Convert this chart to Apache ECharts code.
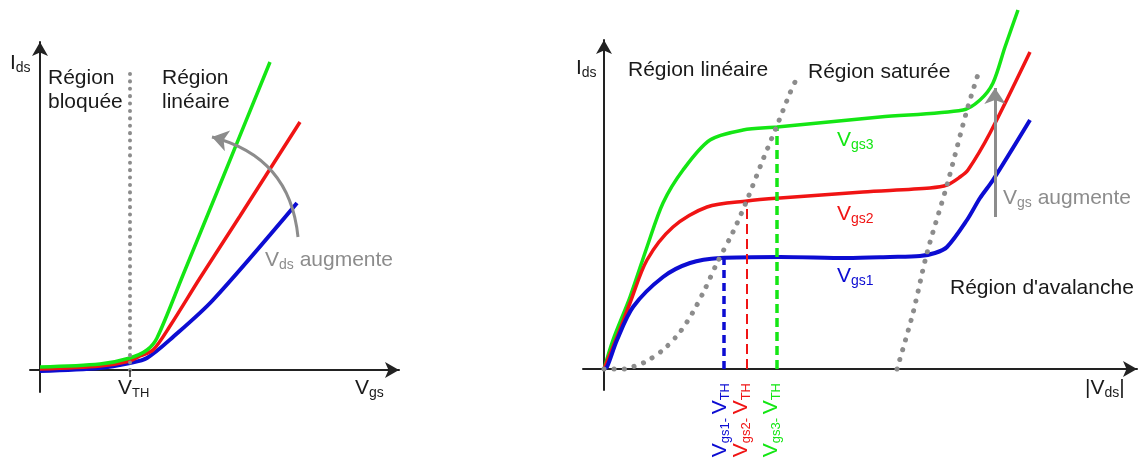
<!DOCTYPE html>
<html>
<head>
<meta charset="utf-8">
<script src="https://cdn.jsdelivr.net/npm/echarts@6/dist/echarts.min.js"></script>
<style>html,body{margin:0;padding:0;background:#fff}#c{width:1140px;height:460px}</style>
</head>
<body>
<div id="c"></div>
<script>
// ---------- Left chart: Ids vs Vgs (arbitrary units) ----------
const leftGreen = [[0,0.15],[3,0.3],[4.5,0.6],[5.35,1.0],[5.85,1.6],[7.15,4.75],[8.85,8.9],[11.5,15.4]];
const leftRed   = [[0,0.05],[3,0.2],[4.5,0.45],[5.0,0.7],[5.65,1.0],[6.5,2.2],[8,4.6],[10,7.7],[13,12.4]];
const leftBlue  = [[0,-0.05],[3,0.1],[4.5,0.35],[5.35,0.6],[6.65,1.65],[8.65,3.5],[12.85,8.35]];
const leftVth   = [[4.5,0],[4.5,14.9]];
const leftVthTick = [[4.5,0],[4.5,-0.35]];
const leftArrow = [[12.9,6.65],[8.6,11.65]];

// ---------- Right chart: Ids vs |Vds| (arbitrary units) ----------
const rightVgs3 = [[0,0],[0.45,1.45],[1.3,3.6],[2.15,6.1],[2.95,8.3],[3.95,9.95],[5.3,11.45],[6.95,11.95],[8.65,12.1],[13.8,12.6],[17.95,12.95],[18.8,13.45],[19.45,14.3],[20.05,16.1],[20.7,17.95]];
const rightVgs2 = [[0,0],[0.65,1.6],[1.3,3.3],[2.15,5.45],[3.45,7.1],[5.15,8.1],[7.15,8.4],[8.8,8.55],[12.95,8.85],[16.3,9.05],[17.15,9.2],[17.8,9.6],[18.2,9.95],[19.3,11.8],[21.3,15.85]];
const rightVgs1 = [[0,0],[0.15,0.1],[0.65,1.45],[1.45,3.1],[2.95,4.6],[4.3,5.3],[5.8,5.55],[8.8,5.6],[12.15,5.55],[14.3,5.6],[15.8,5.65],[16.55,5.8],[17.15,6.1],[18.15,7.45],[18.8,8.55],[19.45,9.45],[21.3,12.45]];
const rightSatLimit = [[0,0],[0.45,0],[1.05,0],[1.55,0.15],[2.05,0.35],[2.95,0.95],[3.8,1.85],[4.45,2.85],[5.05,4.0],[5.65,5.3],[6.45,6.85],[7.15,8.45],[7.9,10.35],[8.7,12.3],[9.3,13.8],[9.55,14.35]];
const rightAvalanche = [[14.65,0],[15.45,2.8],[16.15,5.8],[17.15,9.2],[18.15,12.95],[18.8,15.05]];
const rightDash1 = [[6.0,0],[6.0,5.55]];
const rightDash2 = [[7.15,0],[7.15,8.4]];
const rightDash3 = [[8.65,0],[8.65,12.1]];
const rightArrow = [[19.55,7.6],[19.55,14.05]];

const GREEN = '#14e614', RED = '#f01414', BLUE = '#0c0cd2', GRAY = '#8c8c8c', TXT = '#1a1a1a';
const FONT = "'Liberation Sans', Arial, sans-serif";

function axis(gi, min, max) {
  return {
    type: 'value', gridIndex: gi, min: min, max: max,
    axisLine: { show: true, onZero: true, symbol: ['none', 'arrow'], symbolSize: [12, 14],
      lineStyle: { color: '#222', width: 2 } },
    axisTick: { show: false }, axisLabel: { show: false }, splitLine: { show: false }
  };
}
function line(xi, data, color, width, type, z, smooth) {
  return {
    type: 'line', xAxisIndex: xi, yAxisIndex: xi, data: data, showSymbol: false, symbol: 'none',
    silent: true, z: z, lineStyle: { color: color, width: width, type: type || 'solid' },
    smooth: smooth || 0, clip: false, animation: false
  };
}
function dotted(xi, data, w, gap, z, smooth) {
  const s = line(xi, data, GRAY, w, [0.1, gap], z, smooth);
  s.lineStyle.cap = 'round';
  return s;
}
function rich(color, subSize) {
  return {
    v: { fontSize: 21, lineHeight: 24, fill: color, fontFamily: FONT },
    s: { fontSize: subSize || 14, lineHeight: 10, verticalAlign: 'bottom', fill: color, fontFamily: FONT }
  };
}
function txt(x, y, text, color, opts) {
  opts = opts || {};
  return {
    type: 'text', x: x, y: y, rotation: opts.rot || 0, silent: true, z: 100,
    style: {
      text: text, fill: color, fontSize: 21, fontFamily: FONT, lineHeight: 24,
      textAlign: opts.align || 'left', textVerticalAlign: opts.va || 'middle', rich: rich(color, opts.sub)
    }
  };
}

const chart = echarts.init(document.getElementById('c'), null, { renderer: 'canvas' });
chart.setOption({
  backgroundColor: '#fff',
  animation: false,
  grid: [
    { left: 30, top: 42, width: 369, height: 350 },
    { left: 583, top: 40, width: 554, height: 350 }
  ],
  xAxis: [axis(0, -0.5, 17.95), axis(1, -1.05, 26.65)],
  yAxis: [axis(0, -1.1, 16.4), axis(1, -1.05, 16.45)],
  series: [
    line(0, leftBlue, BLUE, 4, 'solid', 3, 0.3),
    line(0, leftRed, RED, 3.5, 'solid', 4, 0.3),
    line(0, leftGreen, GREEN, 3.5, 'solid', 5, 0.3),
    dotted(0, leftVth, 4, 7.3, 6),
    line(0, leftVthTick, '#222', 1.5, 'solid', 6),
    {
      type: 'lines', coordinateSystem: 'cartesian2d', xAxisIndex: 0, yAxisIndex: 0, silent: true, z: 7,
      symbol: ['none', 'arrow'], symbolSize: 16, animation: false,
      lineStyle: { color: GRAY, width: 3, curveness: -0.35, opacity: 1 },
      data: [{ coords: leftArrow }]
    },

    line(1, rightVgs3, GREEN, 3.5, 'solid', 3, 0.3),
    line(1, rightVgs2, RED, 3.5, 'solid', 4, 0.3),
    line(1, rightVgs1, BLUE, 4, 'solid', 5, 0.3),
    line(1, rightDash1, BLUE, 3.5, [8, 5], 6),
    line(1, rightDash2, RED, 2, [10, 5], 6),
    line(1, rightDash3, GREEN, 3.5, [9, 5], 6),
    dotted(1, rightSatLimit, 5, 10, 7, 0.3),
    dotted(1, rightAvalanche, 5, 10, 7, 0.3),
    {
      type: 'lines', coordinateSystem: 'cartesian2d', xAxisIndex: 1, yAxisIndex: 1, silent: true, z: 8,
      symbol: ['none', 'arrow'], symbolSize: 16, animation: false,
      lineStyle: { color: GRAY, width: 3, curveness: 0, opacity: 1 },
      data: [{ coords: rightArrow }]
    }
  ],
  graphic: [
    // left chart texts
    txt(10, 63, '{v|I}{s|ds}', TXT),
    txt(48, 66, 'Région\nbloquée', TXT, { va: 'top' }),
    txt(162, 66, 'Région\nlinéaire', TXT, { va: 'top' }),
    txt(265, 260, '{v|V}{s|ds}{v| augmente}', GRAY),
    txt(118, 388, '{v|V}{s|TH}', TXT, { sub: 13 }),
    txt(355, 388, '{v|V}{s|gs}', TXT),
    // right chart texts
    txt(576, 68, '{v|I}{s|ds}', TXT),
    txt(628, 70, 'Région linéaire', TXT),
    txt(808, 72, 'Région saturée', TXT),
    txt(837, 140, '{v|V}{s|gs3}', GREEN),
    txt(837, 214, '{v|V}{s|gs2}', RED),
    txt(837, 276, '{v|V}{s|gs1}', BLUE),
    txt(1003, 198, '{v|V}{s|gs}{v| augmente}', GRAY),
    txt(950, 288, "Région d'avalanche", TXT),
    txt(1085, 388, '{v||V}{s|ds}{v||}', TXT),
    txt(720, 383, '{v|V}{s|gs1- }{v|V}{s|TH}', BLUE, { rot: Math.PI / 2, align: 'right', sub: 13 }),
    txt(741, 383, '{v|V}{s|gs2- }{v|V}{s|TH}', RED, { rot: Math.PI / 2, align: 'right', sub: 13 }),
    txt(771, 383, '{v|V}{s|gs3- }{v|V}{s|TH}', GREEN, { rot: Math.PI / 2, align: 'right', sub: 13 })
  ]
});
</script>
</body>
</html>
